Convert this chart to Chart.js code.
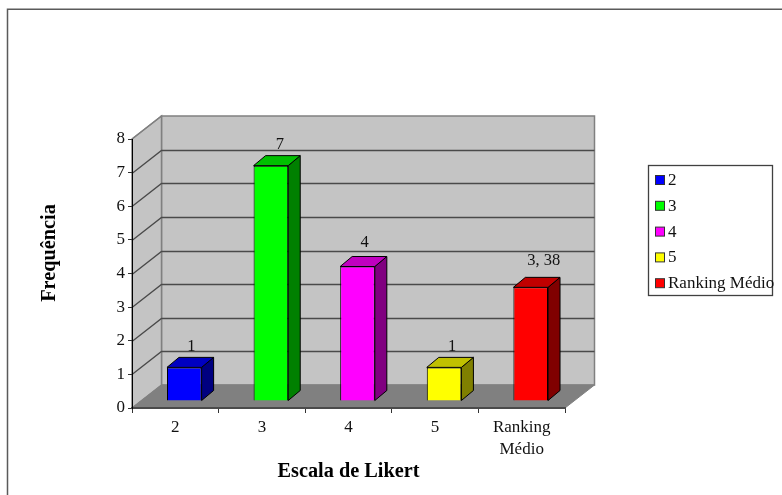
<!DOCTYPE html>
<html lang="pt">
<head>
<meta charset="utf-8">
<title>Escala de Likert</title>
<style>
    html, body { margin: 0; padding: 0; background: #fff; }
    canvas { display: block; }
</style>
<script src="https://cdn.jsdelivr.net/npm/chart.js@4/dist/chart.umd.min.js"></script>
</head>
<body>
<canvas id="likertChart" width="782" height="495"></canvas>
<script>
// ========================================
// DATA
// ========================================

const categorias = ['2', '3', '4', '5', ['Ranking', 'Médio']];
const legendaTextos = ['2', '3', '4', '5', 'Ranking Médio'];
const frequencias = [1, 7, 4, 1, 3.38];
const rotulosValor = ['1', '7', '4', '1', '3, 38'];
const yTicks = [0, 1, 2, 3, 4, 5, 6, 7, 8];

// ========================================
// STYLE
// ========================================

const FONT = '"Liberation Serif", "Times New Roman", serif';
const corFrente = ['#0000ff', '#00ff00', '#ff00ff', '#ffff00', '#ff0000'];
const corTopo = ['#0000c0', '#00c000', '#c000c0', '#c0c000', '#c00000'];
const corLado = ['#000080', '#008000', '#800080', '#808000', '#800000'];

// wall depth, bar offset inside the floor, bar depth
const PAREDE = { dx: 29.5, dy: -23 };
const RECUO = { dx: 9, dy: -7 };
const PROF = { dx: 12, dy: -10 };

// nudges for the value labels, relative to the bar's front top centre
const rotuloDx = [7, 9, 7, 8, 13];
const rotuloDy = [21, 21, 24, 21, 27];

const poly = (ctx, pts, fill, stroke, width = 1) => {
    ctx.beginPath();
    pts.forEach(([x, y], i) => (i ? ctx.lineTo(x, y) : ctx.moveTo(x, y)));
    ctx.closePath();
    if (fill) {
        ctx.fillStyle = fill;
        ctx.fill();
    }
    if (stroke) {
        ctx.strokeStyle = stroke;
        ctx.lineWidth = width;
        ctx.stroke();
    }
};

// ========================================
// PLUGINS
// ========================================

// outer frame, walls and floor of the 3D box
const caixa3d = {
    id: 'caixa3d',
    beforeDraw(chart) {
        const { ctx, scales: { x, y } } = chart;
        const { dx, dy } = PAREDE;
        const y0 = y.getPixelForValue(0);
        const yMax = y.getPixelForValue(yTicks[yTicks.length - 1]);
        ctx.save();

        // frame runs off the right and bottom edges
        ctx.strokeStyle = '#5a5a5a';
        ctx.lineWidth = 1.5;
        ctx.beginPath();
        ctx.moveTo(7.5, chart.height);
        ctx.lineTo(7.5, 9.2);
        ctx.lineTo(chart.width, 9.2);
        ctx.stroke();

        poly(ctx, [[x.left + dx, yMax + dy], [x.right + dx, yMax + dy], [x.right + dx, y0 + dy], [x.left + dx, y0 + dy]], '#c4c4c4', '#808080', 1.5);
        poly(ctx, [[x.left, yMax], [x.left + dx, yMax + dy], [x.left + dx, y0 + dy], [x.left, y0]], '#c4c4c4', '#808080', 1.5);

        // gridlines across the side and back walls
        ctx.strokeStyle = '#4a4a4a';
        ctx.lineWidth = 1.3;
        yTicks.slice(1, -1).forEach(t => {
            const py = Math.round(y.getPixelForValue(t)) + 0.5;
            ctx.beginPath();
            ctx.moveTo(x.left, py);
            ctx.lineTo(x.left + dx, py + dy);
            ctx.lineTo(x.right + dx, py + dy);
            ctx.stroke();
        });
        ctx.beginPath();
        ctx.moveTo(x.left, yMax);
        ctx.lineTo(x.left + dx, yMax + dy);
        ctx.strokeStyle = '#808080';
        ctx.stroke();

        poly(ctx, [[x.left, y0], [x.right, y0], [x.right + dx, y0 + dy], [x.left + dx, y0 + dy]], '#808080', '#808080', 1);
        ctx.restore();
    },
    // bars sit back from the front edge of the floor
    beforeDatasetsDraw(chart) {
        chart.ctx.save();
        chart.ctx.translate(RECUO.dx, RECUO.dy);
    },
    afterDatasetsDraw(chart) {
        const { ctx } = chart;
        const { dx, dy } = PROF;
        ctx.lineJoin = 'round';
        chart.getDatasetMeta(0).data.forEach((bar, i) => {
            const { x, y, base, width } = bar.getProps(['x', 'y', 'base', 'width'], true);
            const l = x - width / 2;
            const r = x + width / 2;
            poly(ctx, [[r, y], [r + dx, y + dy], [r + dx, base + dy], [r, base]], corLado[i], '#000', 1);
            poly(ctx, [[l, y], [l + dx, y + dy], [r + dx, y + dy], [r, y]], corTopo[i], '#000', 1);
        });
        ctx.restore();

        // value labels above each bar
        ctx.save();
        ctx.font = `16.5px ${FONT}`;
        ctx.fillStyle = '#111';
        ctx.textAlign = 'center';
        ctx.textBaseline = 'middle';
        chart.getDatasetMeta(0).data.forEach((bar, i) => {
            const { x, y } = bar.getProps(['x', 'y'], true);
            ctx.fillText(rotulosValor[i], x + RECUO.dx + rotuloDx[i], y + RECUO.dy - rotuloDy[i]);
        });
        ctx.restore();
    }
};

// vertical axis title and the boxed legend on the right
const extras = {
    id: 'extras',
    afterDraw(chart) {
        const { ctx } = chart;
        ctx.save();

        ctx.translate(50, 253);
        ctx.rotate(-Math.PI / 2);
        ctx.font = `bold 20.3px ${FONT}`;
        ctx.fillStyle = '#000';
        ctx.textAlign = 'center';
        ctx.textBaseline = 'middle';
        ctx.fillText('Frequência', 0, 0);
        ctx.setTransform(1, 0, 0, 1, 0, 0);

        ctx.strokeStyle = '#404040';
        ctx.lineWidth = 1.3;
        ctx.strokeRect(648.5, 165.5, 124, 130);

        ctx.font = `17px ${FONT}`;
        ctx.textAlign = 'left';
        legendaTextos.forEach((texto, i) => {
            const cy = 180 + i * 25.8;
            ctx.fillStyle = corFrente[i];
            ctx.fillRect(655.5, cy - 4.5, 9, 9);
            ctx.strokeStyle = '#333';
            ctx.lineWidth = 1;
            ctx.strokeRect(655.5, cy - 4.5, 9, 9);
            ctx.fillStyle = '#111';
            ctx.fillText(texto, 668, cy + 0.5);
        });
        ctx.restore();
    }
};

// ========================================
// CHART
// ========================================

new Chart(document.getElementById('likertChart'), {
    type: 'bar',
    data: {
        labels: categorias,
        datasets: [{
            data: frequencias,
            backgroundColor: corFrente,
            borderColor: '#000',
            borderWidth: 1,
            barPercentage: 0.4,
            categoryPercentage: 1,
            clip: false
        }]
    },
    options: {
        responsive: false,
        animation: false,
        events: [],
        layout: { padding: { top: 139, right: 217, left: 0, bottom: 0 } },
        plugins: { legend: { display: false }, tooltip: { enabled: false } },
        scales: {
            x: {
                afterFit: scale => { scale.height = 87; },
                grid: { drawOnChartArea: false, color: '#333', tickLength: 5 },
                border: { color: '#4a4a4a', width: 2 },
                ticks: {
                    color: '#111',
                    padding: 4,
                    maxRotation: 0,
                    font: { family: FONT, size: 17, lineHeight: 1.28 }
                },
                title: {
                    display: true,
                    text: 'Escala de Likert',
                    color: '#000',
                    padding: { top: 0, bottom: 11 },
                    font: { family: FONT, size: 20.3, weight: 'bold' }
                }
            },
            y: {
                min: 0,
                max: 8,
                afterFit: scale => { scale.width = 132; },
                afterBuildTicks: scale => { scale.ticks = yTicks.map(value => ({ value })); },
                grid: { drawOnChartArea: false, color: '#333', tickLength: 4 },
                border: { color: '#000', width: 1 },
                ticks: {
                    color: '#111',
                    padding: 3,
                    font: { family: FONT, size: 17 }
                }
            }
        }
    },
    plugins: [caixa3d, extras]
});
</script>
</body>
</html>
